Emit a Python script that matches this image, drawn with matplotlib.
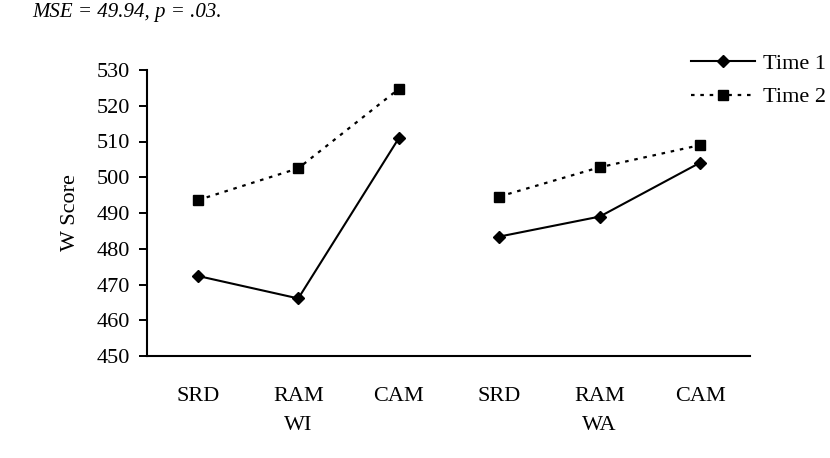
import matplotlib
matplotlib.use("Agg")
import matplotlib.pyplot as plt
from matplotlib.lines import Line2D

categories = ["SRD", "RAM", "CAM", "SRD", "RAM", "CAM"]
groups = ["WI", "WA"]
time1 = [472.4, 466.1, 510.9, 483.4, 489.0, 504.1]
time2 = [493.6, 502.5, 524.7, 494.6, 502.8, 509.0]
series_names = ["Time 1", "Time 2"]
yticks = [450, 460, 470, 480, 490, 500, 510, 520, 530]

plt.rcParams['font.family'] = ['Liberation Serif', 'DejaVu Serif']

fig = plt.figure(figsize=(8.3, 4.58), dpi=100)
ax = fig.add_axes([147/830, 1 - 356/458, (750 - 147)/830, (356 - 70)/458])

x = list(range(len(categories)))
xa, ta, tb = x[:3], time1[:3], time2[:3]
xb, tc, td = x[3:], time1[3:], time2[3:]

for xs, y1, y2 in [(xa, ta, tb), (xb, tc, td)]:
    ax.plot(xs, y1, color='black', lw=1.5, marker='D', markersize=6.5)
    ax.plot(xs, y2, color='black', lw=1.6, linestyle=(0, (1.6, 2.6)),
            marker='s', markersize=7.5)

ax.set_xlim(-0.505, 5.495)
ax.set_ylim(450, 530)
ax.set_yticks(yticks)
ax.set_xticks(x)
ax.set_xticklabels(categories)
ax.tick_params(axis='x', length=0, pad=22, labelsize=16)
ax.tick_params(axis='y', length=6, width=1.4, pad=6, labelsize=16, direction='out')
for s in ['top', 'right']:
    ax.spines[s].set_visible(False)
for s in ['left', 'bottom']:
    ax.spines[s].set_linewidth(1.5)

ax.set_ylabel("W Score", fontsize=16, labelpad=12)

# group labels below middle category of each group
for gi, g in enumerate(groups):
    ax.annotate(g, xy=(x[gi * 3 + 1], 0), xycoords=('data', 'axes fraction'),
                xytext=(0, -70), textcoords='offset pixels',
                ha='center', va='center', fontsize=16)

handles = [
    Line2D([], [], color='black', lw=1.5, marker='D', markersize=6.5),
    Line2D([], [], color='black', lw=1.6, linestyle=(0, (1.6, 2.6)),
           marker='s', markersize=7.5),
]
fig.legend(handles, series_names, loc='upper left',
           bbox_to_anchor=(691/830, 1 - 53/458), frameon=False, fontsize=16,
           handlelength=2.9, handletextpad=0.35, labelspacing=0.6,
           borderpad=0, borderaxespad=0)

# caption text at the top edge of the scan
fig.text(32/830, 1 - 3/458, "MSE = 49.94, p = .03.", fontsize=15,
         style='italic', va='top', ha='left')

fig.savefig("out.png", dpi=100)
